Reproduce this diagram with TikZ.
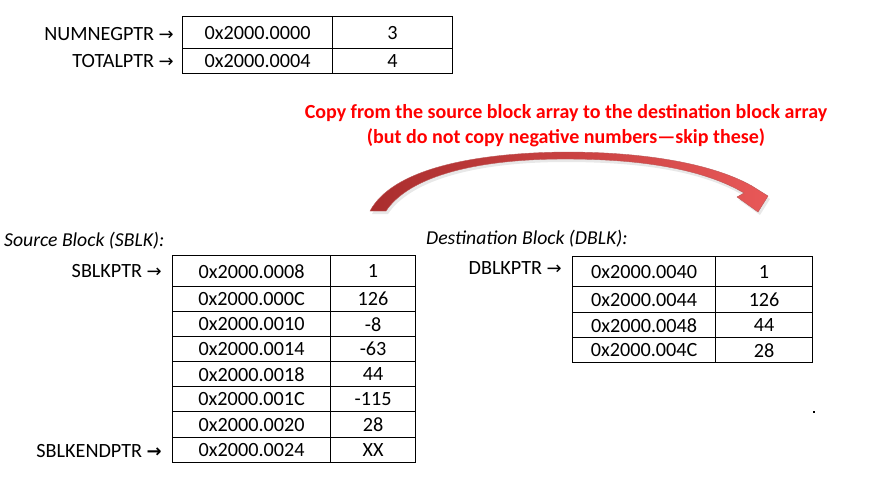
\documentclass[tikz,border=0pt]{standalone}
\usepackage{fontspec}
\setmainfont{Carlito}
\newfontfamily\arrowfont{DejaVu Sans}
\usetikzlibrary{positioning}
\definecolor{arrowdark}{RGB}{170,45,45}
\definecolor{arrowlight}{RGB}{232,88,88}
\newcommand{\rarr}{{\arrowfont\fontsize{18}{20}\selectfont→}}
\newcommand{\brarr}{{\arrowfont\fontsize{18}{20}\selectfont\bfseries →}}
\begin{document}
\begin{tikzpicture}[x=1pt,y=-1pt,
  every node/.style={font=\fontsize{20.2}{22}\selectfont},
  cell/.style={draw=black,line width=1.2pt,anchor=north west,inner sep=0pt,text depth=0pt},
  lbl/.style={anchor=east,inner sep=0pt},
  ttl/.style={anchor=west,inner sep=0pt,font=\fontsize{19.7}{22}\selectfont\itshape},
  note/.style={text=red,font=\fontsize{20}{25}\selectfont\bfseries,align=center,inner sep=0pt}]
\useasboundingbox (0,0) rectangle (893,498);

% ---------- top table ----------
\node[cell,minimum width=150pt,minimum height=32pt] (na) at (182,16) {0x2000.0000};
\node[cell,minimum width=120pt,minimum height=32pt] (nv) at (332,16) {3};
\node[cell,minimum width=150pt,minimum height=25pt] (ta) at (182,48) {0x2000.0004};
\node[cell,minimum width=120pt,minimum height=25pt] (tv) at (332,48) {4};
\node[lbl] (numneg) at (174,34) {NUMNEGPTR \rarr};
\node[lbl] (total) at (174,61) {TOTALPTR \rarr};

% ---------- note ----------
\node[note] (note) at (566,126) {Copy from the source block array to the destination block array\\(but do not copy negative numbers—skip these)};

% ---------- curved arrow ----------
\fill[gray!35,opacity=0.5]
  (372,214) .. controls (394,173) and (472,156) .. (565,155)
  .. controls (650,155) and (715,168) .. (754,189)
  -- (770,199) -- (760,215) -- (739,200) -- (746,197)
  .. controls (707,173) and (647,162) .. (565,162)
  .. controls (482,162) and (412,178) .. (388,214) -- cycle;
\shade[left color=arrowdark,right color=arrowlight,draw=arrowdark!80,line width=0.4pt]
  (370,211) .. controls (392,170) and (470,153) .. (565,152)
  .. controls (650,152) and (715,165) .. (752,186)
  -- (768,196) -- (758,212) -- (737,197) -- (744,193)
  .. controls (705,170) and (645,159) .. (565,159)
  .. controls (480,159) and (410,175) .. (386,211) -- cycle;

% ---------- source block ----------
\node[ttl] (stitle) at (4,241) {Source Block (SBLK):};
\foreach \i/\addr/\val/\top/\h in {1/0x2000.0008/1/255/31,2/0x2000.000C/126/286/25,3/0x2000.0010/-8/311/25,4/0x2000.0014/-63/336/25,5/0x2000.0018/44/361/25,6/0x2000.001C/-115/386/25,7/0x2000.0020/28/411/26,8/0x2000.0024/XX/437/25}{
  \node[cell,minimum width=158pt,minimum height=\h pt] (sa\i) at (172,\top) {\addr};
  \node[cell,minimum width=85pt,minimum height=\h pt] (sv\i) at (330,\top) {\val};
}
\node[lbl] (sptr) at (162,271) {SBLKPTR \rarr};
\node[lbl] (send) at (162,451) {SBLKENDPTR \brarr};

% ---------- destination block ----------
\node[ttl] (dtitle) at (426,239) {Destination Block (DBLK):};
\foreach \i/\addr/\val/\top/\h in {1/0x2000.0040/1/256/30,2/0x2000.0044/126/286/26,3/0x2000.0048/44/312/25,4/0x2000.004C/28/337/25}{
  \node[cell,minimum width=143pt,minimum height=\h pt] (da\i) at (572,\top) {\addr};
  \node[cell,minimum width=97pt,minimum height=\h pt] (dv\i) at (715,\top) {\val};
}
\node[lbl] (dptr) at (562,268) {DBLKPTR \rarr};

% stray dot
\fill[black] (813.3,411.3) rectangle (814.7,412.7);
\end{tikzpicture}
\end{document}
